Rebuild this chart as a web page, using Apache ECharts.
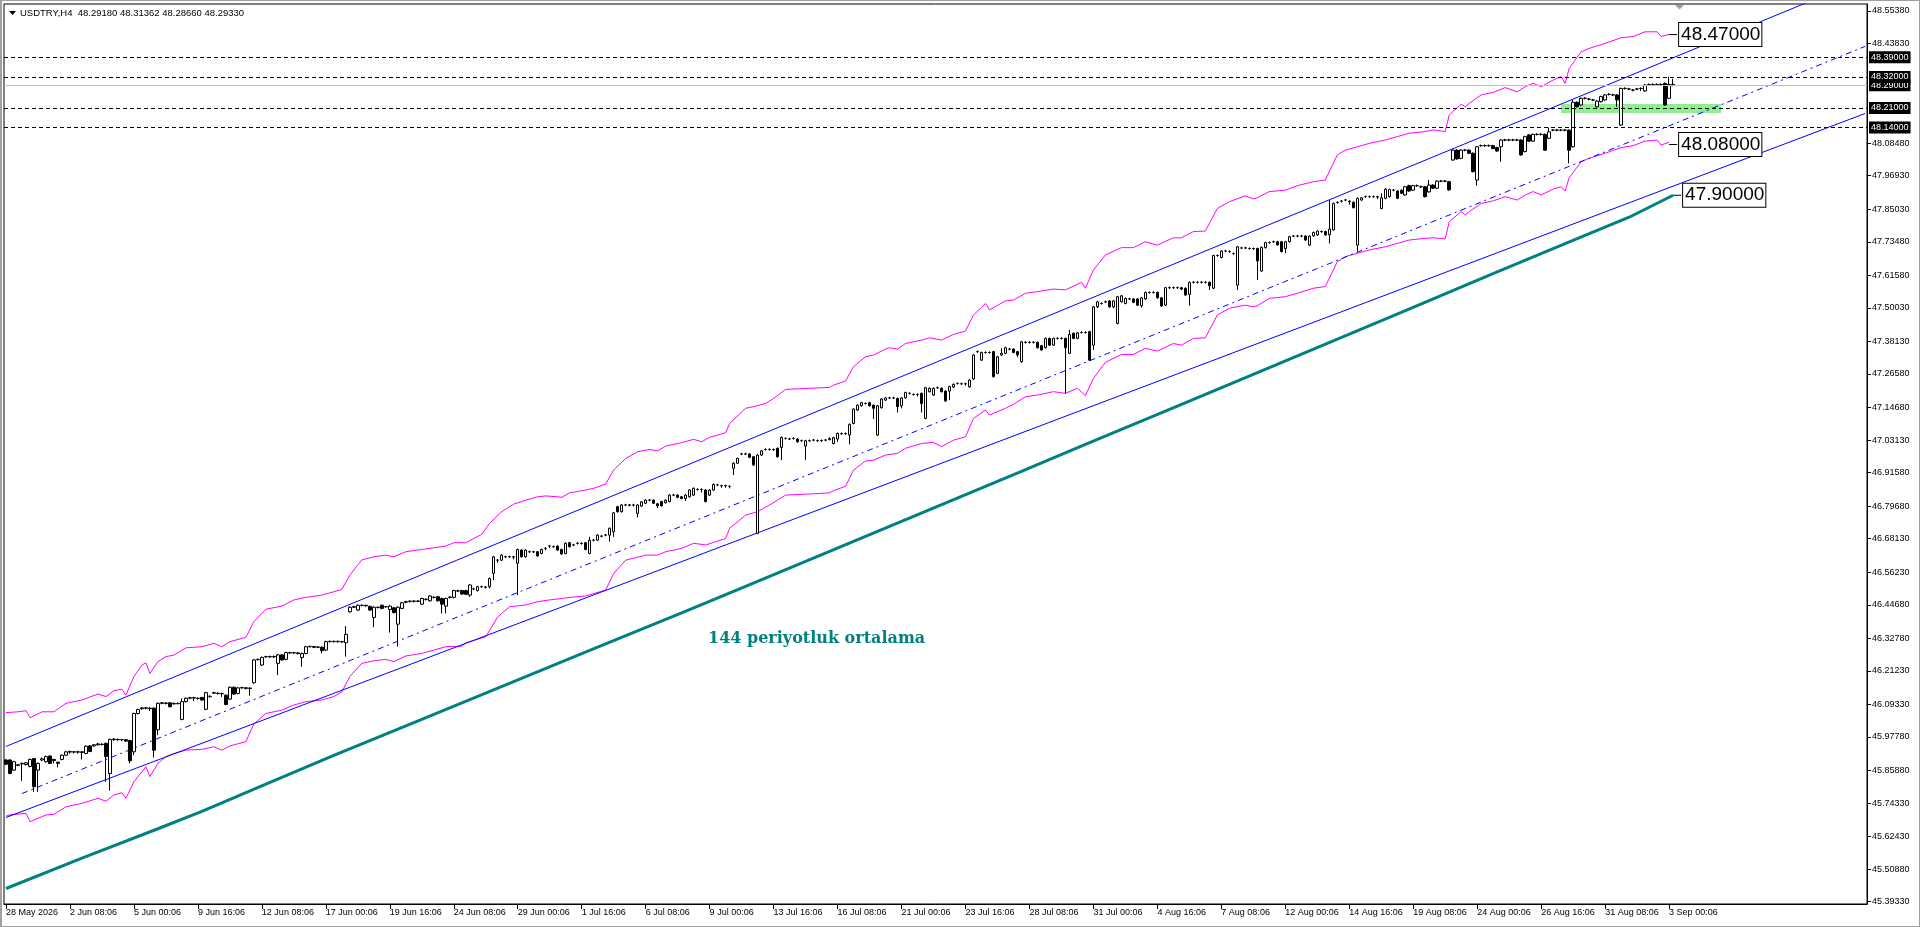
<!DOCTYPE html>
<html><head><meta charset="utf-8">
<script src="https://cdn.jsdelivr.net/npm/echarts@6/dist/echarts.min.js"></script>
<style>
html,body{margin:0;padding:0;background:#fff;}
#c{width:1920px;height:927px;}
#frame{position:absolute;left:0;top:0;width:1920px;height:927px;box-sizing:border-box;border:1px solid #a0a0a0;border-left-width:2px;pointer-events:none;}
</style>
</head><body><div id="c"></div><div id="frame"></div>
<script>
// ---------------- DATA ----------------
const symbolName = 'USDTRY,H4';
const startTimeUTC = [2026, 4, 28, 16, 6]; // first H4 bar
const totalSlots = 466;                    // bars + empty right shift area
const priceTicks = [45.3933,45.5088,45.6243,45.7433,45.8588,45.9778,46.0933,46.2123,46.3278,46.4468,46.5623,46.6813,46.7968,46.9158,47.0313,47.1468,47.2658,47.3813,47.5003,47.6158,47.7348,47.8503,47.9693,48.0848,48.4383,48.5538];
const yRange = [45.385, 48.5786];

// [open, high, low, close]
const ohlc = [
[45.896,45.899,45.878,45.881],[45.896,45.899,45.845,45.848],[45.860,45.893,45.857,45.890],[45.879,45.881,45.874,45.877],[45.884,45.887,45.822,45.882],[45.880,45.889,45.876,45.886],[45.873,45.901,45.870,45.898],[45.901,45.903,45.783,45.801],[45.860,45.887,45.783,45.884],[45.896,45.905,45.892,45.900],
[45.890,45.912,45.887,45.908],[45.910,45.913,45.882,45.884],[45.898,45.900,45.884,45.894],[45.888,45.890,45.870,45.884],[45.898,45.916,45.895,45.913],[45.913,45.928,45.910,45.925],[45.924,45.930,45.918,45.926],[45.925,45.928,45.919,45.924],[45.924,45.929,45.918,45.925],[45.925,45.928,45.898,45.923],
[45.919,45.948,45.916,45.945],[45.946,45.949,45.924,45.926],[45.946,45.953,45.943,45.950],[45.950,45.957,45.947,45.953],[45.952,45.955,45.947,45.951],[45.955,45.958,45.819,45.908],[45.848,45.972,45.787,45.969],[45.968,45.974,45.964,45.970],[45.969,45.972,45.964,45.968],[45.968,45.971,45.963,45.968],
[45.968,45.970,45.960,45.963],[45.965,45.968,45.884,45.893],[45.925,46.064,45.913,46.061],[46.061,46.078,46.058,46.075],[46.078,46.084,46.074,46.081],[46.081,46.084,46.076,46.080],[46.080,46.083,46.070,46.078],[46.080,46.083,45.905,45.931],[46.003,46.100,45.984,46.097],[46.097,46.102,46.094,46.099],
[46.098,46.101,46.093,46.097],[46.099,46.101,46.083,46.085],[46.095,46.099,46.093,46.097],[46.096,46.100,46.093,46.097],[46.040,46.115,46.037,46.103],[46.103,46.118,46.100,46.115],[46.115,46.120,46.112,46.117],[46.117,46.120,46.105,46.116],[46.115,46.118,46.110,46.114],[46.118,46.120,46.106,46.109],
[46.076,46.138,46.073,46.135],[46.121,46.125,46.117,46.122],[46.133,46.138,46.130,46.135],[46.133,46.136,46.128,46.132],[46.132,46.135,46.120,46.131],[46.126,46.129,46.090,46.093],[46.112,46.157,46.109,46.154],[46.154,46.157,46.127,46.130],[46.132,46.155,46.129,46.152],[46.152,46.156,46.149,46.153],
[46.152,46.155,46.146,46.150],[46.151,46.154,46.124,46.150],[46.170,46.254,46.167,46.251],[46.252,46.256,46.249,46.253],[46.233,46.263,46.230,46.260],[46.262,46.266,46.259,46.263],[46.263,46.266,46.259,46.262],[46.262,46.267,46.258,46.263],[46.239,46.272,46.197,46.269],[46.269,46.272,46.249,46.251],
[46.253,46.280,46.250,46.277],[46.277,46.280,46.273,46.276],[46.276,46.280,46.272,46.277],[46.276,46.278,46.270,46.274],[46.260,46.277,46.227,46.274],[46.274,46.301,46.271,46.298],[46.298,46.302,46.295,46.299],[46.299,46.300,46.293,46.296],[46.296,46.300,46.293,46.297],[46.296,46.299,46.274,46.284],
[46.286,46.319,46.283,46.316],[46.316,46.320,46.313,46.317],[46.317,46.320,46.313,46.316],[46.316,46.320,46.312,46.317],[46.316,46.319,46.312,46.315],[46.312,46.371,46.263,46.342],[46.422,46.441,46.419,46.438],[46.438,46.443,46.435,46.440],[46.428,46.448,46.425,46.445],[46.444,46.448,46.441,46.445],
[46.445,46.447,46.440,46.443],[46.441,46.444,46.425,46.428],[46.402,46.441,46.367,46.438],[46.438,46.441,46.434,46.437],[46.445,46.448,46.431,46.434],[46.440,46.443,46.436,46.440],[46.430,46.445,46.348,46.442],[46.436,46.439,46.416,46.419],[46.378,46.441,46.298,46.438],[46.434,46.457,46.431,46.454],
[46.456,46.461,46.452,46.458],[46.458,46.463,46.455,46.460],[46.460,46.463,46.455,46.459],[46.459,46.463,46.456,46.460],[46.449,46.472,46.446,46.469],[46.466,46.470,46.462,46.466],[46.461,46.481,46.458,46.478],[46.473,46.477,46.469,46.473],[46.475,46.478,46.458,46.461],[46.469,46.472,46.416,46.449],
[46.442,46.472,46.416,46.469],[46.473,46.477,46.469,46.474],[46.473,46.500,46.470,46.497],[46.496,46.500,46.492,46.496],[46.497,46.500,46.482,46.485],[46.497,46.500,46.481,46.484],[46.481,46.520,46.475,46.517],[46.503,46.507,46.499,46.503],[46.497,46.514,46.494,46.511],[46.511,46.515,46.507,46.511],
[46.510,46.513,46.505,46.509],[46.511,46.543,46.505,46.540],[46.558,46.620,46.534,46.617],[46.605,46.609,46.596,46.605],[46.605,46.626,46.602,46.623],[46.617,46.621,46.613,46.617],[46.617,46.621,46.613,46.618],[46.617,46.620,46.608,46.616],[46.594,46.646,46.481,46.643],[46.641,46.644,46.614,46.617],
[46.617,46.644,46.614,46.641],[46.635,46.639,46.631,46.635],[46.635,46.638,46.631,46.634],[46.635,46.638,46.617,46.620],[46.629,46.646,46.626,46.643],[46.647,46.651,46.640,46.647],[46.655,46.659,46.648,46.655],[46.653,46.657,46.649,46.653],[46.655,46.658,46.638,46.641],[46.643,46.646,46.624,46.627],
[46.629,46.668,46.626,46.665],[46.667,46.670,46.650,46.653],[46.659,46.663,46.655,46.659],[46.665,46.669,46.661,46.665],[46.665,46.668,46.660,46.664],[46.667,46.670,46.640,46.643],[46.629,46.688,46.626,46.676],[46.676,46.680,46.672,46.676],[46.676,46.697,46.673,46.694],[46.690,46.694,46.686,46.690],
[46.694,46.698,46.690,46.694],[46.694,46.721,46.671,46.718],[46.706,46.776,46.688,46.773],[46.795,46.798,46.774,46.777],[46.777,46.804,46.774,46.801],[46.801,46.805,46.797,46.801],[46.801,46.804,46.796,46.800],[46.800,46.805,46.796,46.801],[46.771,46.804,46.757,46.801],[46.797,46.815,46.794,46.812],
[46.807,46.821,46.804,46.818],[46.818,46.822,46.814,46.818],[46.818,46.821,46.804,46.807],[46.805,46.808,46.790,46.798],[46.813,46.816,46.795,46.798],[46.809,46.821,46.806,46.818],[46.813,46.839,46.810,46.836],[46.836,46.840,46.832,46.836],[46.836,46.839,46.825,46.828],[46.830,46.833,46.821,46.824],
[46.824,46.839,46.815,46.836],[46.830,46.857,46.827,46.854],[46.836,46.863,46.833,46.860],[46.856,46.860,46.852,46.856],[46.856,46.860,46.845,46.856],[46.854,46.857,46.810,46.813],[46.836,46.857,46.833,46.854],[46.854,46.877,46.851,46.874],[46.872,46.876,46.868,46.872],[46.869,46.873,46.862,46.869],
[46.869,46.873,46.862,46.870],[46.867,46.871,46.860,46.867],[46.931,46.952,46.907,46.949],[46.949,46.969,46.946,46.966],[46.982,46.986,46.978,46.982],[46.982,46.986,46.978,46.982],[46.982,46.985,46.967,46.970],[46.972,46.975,46.939,46.943],[46.700,46.981,46.697,46.978],[46.978,46.996,46.975,46.993],
[46.998,47.002,46.994,46.998],[46.998,47.002,46.994,46.998],[46.998,47.001,46.993,46.997],[47.002,47.005,46.969,46.972],[47.005,47.044,46.960,47.041],[47.037,47.041,47.033,47.037],[47.035,47.039,47.031,47.035],[47.037,47.041,47.033,47.037],[47.035,47.038,47.022,47.025],[47.029,47.033,47.025,47.029],
[47.010,47.032,46.960,47.029],[47.029,47.033,47.025,47.029],[47.031,47.035,47.027,47.031],[47.029,47.033,47.025,47.029],[47.029,47.033,47.025,47.030],[47.031,47.035,47.027,47.031],[47.033,47.041,47.030,47.037],[47.019,47.043,47.016,47.040],[47.035,47.058,47.025,47.055],[47.054,47.058,47.050,47.054],
[47.054,47.058,47.050,47.054],[47.049,47.090,47.016,47.087],[47.090,47.144,47.087,47.141],[47.138,47.158,47.135,47.155],[47.153,47.167,47.150,47.164],[47.161,47.165,47.157,47.161],[47.164,47.167,47.150,47.153],[47.155,47.158,47.106,47.144],[47.049,47.156,47.046,47.153],[47.146,47.180,47.143,47.177],
[47.173,47.184,47.170,47.181],[47.181,47.185,47.177,47.181],[47.181,47.185,47.177,47.181],[47.179,47.182,47.129,47.150],[47.153,47.184,47.144,47.181],[47.181,47.203,47.178,47.200],[47.197,47.201,47.193,47.197],[47.193,47.197,47.189,47.193],[47.193,47.197,47.186,47.193],[47.197,47.200,47.129,47.161],
[47.108,47.220,47.105,47.217],[47.203,47.218,47.200,47.215],[47.191,47.218,47.188,47.215],[47.217,47.221,47.213,47.217],[47.215,47.218,47.200,47.203],[47.205,47.208,47.167,47.170],[47.205,47.224,47.173,47.221],[47.219,47.232,47.216,47.229],[47.232,47.236,47.228,47.232],[47.231,47.235,47.227,47.231],
[47.231,47.235,47.224,47.231],[47.220,47.247,47.217,47.244],[47.248,47.336,47.245,47.333],[47.345,47.349,47.341,47.345],[47.315,47.345,47.312,47.342],[47.342,47.346,47.338,47.342],[47.342,47.346,47.338,47.342],[47.345,47.348,47.253,47.256],[47.268,47.330,47.265,47.327],[47.333,47.357,47.330,47.339],
[47.339,47.362,47.336,47.359],[47.354,47.358,47.350,47.354],[47.354,47.357,47.339,47.342],[47.345,47.348,47.325,47.333],[47.309,47.383,47.306,47.380],[47.378,47.382,47.374,47.378],[47.378,47.382,47.374,47.378],[47.378,47.382,47.374,47.378],[47.378,47.381,47.356,47.359],[47.366,47.369,47.348,47.351],
[47.359,47.395,47.356,47.392],[47.392,47.395,47.365,47.368],[47.368,47.395,47.365,47.392],[47.392,47.396,47.388,47.392],[47.392,47.396,47.388,47.392],[47.392,47.395,47.197,47.359],[47.339,47.422,47.336,47.406],[47.410,47.413,47.389,47.392],[47.392,47.415,47.389,47.412],[47.413,47.417,47.409,47.413],
[47.413,47.417,47.409,47.413],[47.416,47.419,47.312,47.315],[47.368,47.507,47.351,47.504],[47.504,47.525,47.499,47.522],[47.516,47.520,47.512,47.516],[47.522,47.526,47.518,47.522],[47.525,47.528,47.501,47.504],[47.504,47.528,47.499,47.525],[47.445,47.543,47.442,47.540],[47.522,47.546,47.519,47.543],
[47.516,47.537,47.513,47.534],[47.532,47.536,47.528,47.532],[47.532,47.535,47.517,47.520],[47.532,47.535,47.507,47.510],[47.508,47.539,47.501,47.536],[47.532,47.558,47.529,47.555],[47.555,47.559,47.551,47.555],[47.555,47.559,47.551,47.555],[47.555,47.558,47.533,47.536],[47.536,47.539,47.504,47.507],
[47.510,47.575,47.507,47.572],[47.572,47.576,47.568,47.572],[47.572,47.576,47.568,47.572],[47.572,47.576,47.568,47.572],[47.572,47.575,47.564,47.567],[47.570,47.573,47.543,47.546],[47.548,47.594,47.508,47.591],[47.591,47.595,47.587,47.591],[47.591,47.595,47.587,47.591],[47.591,47.595,47.587,47.591],
[47.591,47.595,47.587,47.591],[47.591,47.594,47.564,47.579],[47.570,47.689,47.567,47.686],[47.686,47.690,47.682,47.686],[47.679,47.705,47.676,47.702],[47.702,47.706,47.698,47.702],[47.700,47.704,47.696,47.700],[47.693,47.697,47.689,47.693],[47.581,47.720,47.564,47.717],[47.713,47.717,47.709,47.713],
[47.713,47.717,47.709,47.713],[47.711,47.715,47.707,47.711],[47.711,47.714,47.706,47.710],[47.711,47.714,47.599,47.667],[47.631,47.718,47.628,47.715],[47.714,47.735,47.711,47.732],[47.732,47.736,47.728,47.732],[47.735,47.739,47.731,47.735],[47.735,47.738,47.721,47.724],[47.735,47.738,47.697,47.700],
[47.711,47.738,47.694,47.735],[47.735,47.756,47.732,47.753],[47.755,47.759,47.751,47.755],[47.755,47.759,47.751,47.755],[47.755,47.759,47.751,47.755],[47.755,47.758,47.738,47.741],[47.723,47.758,47.720,47.755],[47.756,47.771,47.753,47.768],[47.759,47.776,47.756,47.773],[47.771,47.775,47.767,47.771],
[47.771,47.774,47.756,47.759],[47.760,47.883,47.729,47.780],[47.777,47.874,47.774,47.871],[47.874,47.878,47.870,47.875],[47.879,47.883,47.875,47.879],[47.883,47.887,47.879,47.883],[47.879,47.882,47.867,47.877],[47.875,47.878,47.853,47.856],[47.723,47.892,47.700,47.889],[47.883,47.894,47.880,47.891],
[47.895,47.899,47.891,47.895],[47.895,47.899,47.891,47.895],[47.895,47.899,47.891,47.895],[47.895,47.898,47.886,47.894],[47.853,47.907,47.850,47.891],[47.889,47.925,47.886,47.922],[47.895,47.923,47.892,47.920],[47.918,47.922,47.914,47.918],[47.915,47.918,47.886,47.889],[47.918,47.921,47.904,47.907],
[47.901,47.933,47.898,47.930],[47.934,47.937,47.912,47.915],[47.918,47.937,47.915,47.934],[47.934,47.938,47.930,47.934],[47.930,47.934,47.926,47.930],[47.930,47.933,47.892,47.895],[47.912,47.954,47.909,47.936],[47.936,47.939,47.922,47.925],[47.925,47.953,47.922,47.950],[47.950,47.954,47.946,47.950],
[47.950,47.954,47.946,47.950],[47.948,47.951,47.916,47.919],[48.025,48.063,48.022,48.060],[48.060,48.063,48.026,48.029],[48.031,48.063,48.028,48.060],[48.060,48.064,48.056,48.060],[48.060,48.063,48.046,48.049],[48.049,48.052,47.981,47.984],[47.954,48.075,47.934,48.072],[48.076,48.080,48.072,48.076],
[48.076,48.080,48.072,48.076],[48.076,48.080,48.072,48.076],[48.076,48.079,48.063,48.066],[48.069,48.072,48.054,48.057],[48.072,48.099,48.019,48.096],[48.096,48.100,48.092,48.096],[48.096,48.100,48.092,48.096],[48.096,48.100,48.092,48.096],[48.096,48.100,48.092,48.096],[48.096,48.099,48.040,48.043],
[48.055,48.111,48.052,48.108],[48.114,48.117,48.089,48.092],[48.092,48.119,48.089,48.116],[48.116,48.120,48.112,48.116],[48.116,48.120,48.112,48.116],[48.116,48.119,48.057,48.060],[48.102,48.140,48.099,48.125],[48.131,48.135,48.127,48.131],[48.131,48.135,48.127,48.131],[48.131,48.135,48.127,48.131],
[48.131,48.135,48.127,48.131],[48.131,48.134,48.013,48.060],[48.072,48.238,48.069,48.230],[48.230,48.233,48.211,48.214],[48.220,48.247,48.217,48.244],[48.244,48.248,48.240,48.244],[48.241,48.245,48.237,48.241],[48.238,48.242,48.234,48.238],[48.214,48.237,48.211,48.234],[48.232,48.253,48.229,48.250],
[48.238,48.259,48.235,48.256],[48.258,48.262,48.254,48.258],[48.256,48.260,48.252,48.256],[48.256,48.259,48.214,48.238],[48.149,48.282,48.146,48.279],[48.279,48.283,48.275,48.279],[48.277,48.281,48.273,48.277],[48.273,48.277,48.269,48.273],[48.277,48.281,48.273,48.277],[48.279,48.283,48.270,48.279],
[48.270,48.294,48.267,48.291],[48.293,48.297,48.289,48.293],[48.293,48.297,48.289,48.293],[48.293,48.297,48.289,48.293],[48.293,48.297,48.289,48.293],[48.297,48.300,48.217,48.220],[48.244,48.321,48.241,48.293],[48.2918,48.31362,48.2866,48.2933]
];

// Envelope bands: [bar index, price]
const envUpper = [[0,46.064],[3,46.067],[5,46.071],[6,46.046],[9,46.067],[12,46.067],[15,46.097],[19,46.109],[23,46.130],[25,46.121],[27,46.142],[29,46.147],[30,46.126],[32,46.192],[34,46.233],[35,46.241],[36,46.203],[38,46.245],[40,46.263],[42,46.268],[45,46.294],[49,46.298],[52,46.310],[54,46.298],[56,46.316],[60,46.331],[62,46.387],[65,46.431],[69,46.442],[72,46.464],[75,46.473],[79,46.481],[82,46.493],[84,46.501],[86,46.552],[89,46.606],[92,46.617],[95,46.623],[97,46.617],[100,46.635],[104,46.643],[110,46.655],[112,46.667],[115,46.667],[119,46.697],[121,46.736],[124,46.777],[127,46.804],[130,46.818],[133,46.830],[135,46.833],[138,46.830],[139,46.828],[141,46.844],[145,46.854],[147,46.860],[150,46.875],[152,46.925],[155,46.966],[158,46.990],[161,46.998],[163,46.993],[165,47.010],[169,47.022],[172,47.034],[174,47.025],[176,47.041],[180,47.057],[181,47.090],[185,47.144],[187,47.150],[190,47.161],[192,47.179],[195,47.211],[201,47.215],[206,47.218],[207,47.226],[210,47.241],[212,47.292],[215,47.327],[217,47.333],[220,47.354],[221,47.359],[223,47.354],[225,47.374],[229,47.386],[231,47.394],[234,47.386],[237,47.406],[240,47.418],[242,47.475],[245,47.516],[246,47.493],[250,47.525],[252,47.528],[255,47.552],[258,47.558],[262,47.567],[265,47.564],[269,47.591],[270,47.570],[272,47.635],[275,47.688],[279,47.714],[282,47.714],[285,47.735],[288,47.723],[292,47.749],[294,47.749],[297,47.771],[300,47.773],[303,47.853],[306,47.877],[310,47.898],[312,47.887],[313,47.891],[316,47.913],[320,47.918],[323,47.934],[327,47.948],[330,47.954],[333,48.043],[335,48.060],[338,48.072],[341,48.084],[345,48.096],[348,48.108],[351,48.120],[355,48.126],[357,48.132],[360,48.126],[361,48.185],[364,48.223],[365,48.214],[366,48.226],[369,48.256],[372,48.265],[375,48.282],[378,48.267],[380,48.285],[382,48.297],[384,48.285],[387,48.309],[389,48.321],[390,48.297],[391,48.350],[394,48.409],[396,48.421],[400,48.439],[404,48.459],[407,48.463],[410,48.480],[413,48.480],[414,48.463],[416,48.471]];
const envLower = [[0,45.697],[1,45.701],[5,45.707],[6,45.677],[10,45.701],[12,45.703],[15,45.730],[19,45.742],[23,45.760],[25,45.750],[27,45.772],[29,45.780],[30,45.760],[32,45.819],[35,45.872],[36,45.837],[38,45.884],[40,45.908],[42,45.919],[45,45.931],[49,45.934],[52,45.943],[54,45.931],[56,45.946],[60,45.961],[62,46.024],[65,46.061],[69,46.073],[72,46.091],[75,46.103],[79,46.109],[82,46.121],[84,46.138],[86,46.192],[89,46.239],[92,46.248],[95,46.253],[97,46.245],[100,46.265],[104,46.274],[110,46.298],[114,46.300],[115,46.312],[120,46.333],[123,46.404],[126,46.440],[130,46.446],[133,46.458],[136,46.464],[139,46.469],[141,46.473],[145,46.478],[150,46.499],[152,46.558],[155,46.605],[160,46.623],[163,46.623],[165,46.635],[169,46.647],[172,46.665],[175,46.659],[180,46.682],[181,46.718],[185,46.765],[188,46.777],[191,46.801],[193,46.818],[195,46.836],[201,46.840],[206,46.844],[207,46.852],[210,46.867],[212,46.925],[215,46.957],[217,46.960],[220,46.978],[223,46.984],[225,47.002],[229,47.019],[232,47.023],[234,47.008],[237,47.031],[240,47.043],[242,47.108],[245,47.138],[246,47.120],[250,47.144],[252,47.158],[255,47.185],[258,47.191],[262,47.203],[265,47.197],[268,47.215],[270,47.189],[272,47.250],[275,47.307],[279,47.335],[282,47.335],[285,47.357],[288,47.347],[292,47.374],[294,47.368],[297,47.392],[300,47.394],[303,47.475],[306,47.499],[310,47.510],[312,47.504],[313,47.508],[316,47.534],[320,47.540],[323,47.552],[327,47.570],[330,47.576],[333,47.664],[335,47.682],[338,47.694],[341,47.706],[345,47.717],[348,47.729],[351,47.741],[355,47.747],[357,47.749],[360,47.745],[361,47.806],[364,47.842],[365,47.830],[366,47.842],[369,47.871],[372,47.880],[375,47.895],[378,47.883],[380,47.901],[382,47.913],[384,47.901],[387,47.922],[389,47.930],[390,47.915],[391,47.962],[394,48.019],[396,48.031],[400,48.049],[404,48.069],[407,48.076],[410,48.092],[413,48.096],[414,48.078],[416,48.088]];
// 144-period moving average
const ma144 = [[0,45.440],[19,45.548],[38,45.652],[49,45.714],[65,45.810],[82,45.912],[104,46.040],[146,46.285],[169,46.418],[185,46.512],[206,46.636],[254,46.920],[270,47.016],[287,47.116],[309,47.247],[349,47.484],[373,47.628],[390,47.728],[406,47.822],[417,47.900]];
// channel trend lines
const trendUpper = [[0,45.944],[465,48.669]];
const trendMid = [[4,45.777],[465,48.428]];
const trendLower = [[0,45.692],[465,48.190]];
// horizontal levels
const dashedLevels = [48.39, 48.32, 48.21, 48.14];
const bidLevel = 48.2933;
const zoneRange = [48.192, 48.224];
const zoneBars = [389, 429];
// price label objects: [value, anchor bar]
const priceLabels = [[48.47, 416], [48.08, 416], [47.90, 417]];
const annotationText = '144 periyotluk ortalama';

// ---------------- BUILD ----------------
const MONTHS = ['Jan','Feb','Mar','Apr','May','Jun','Jul','Aug','Sep','Oct','Nov','Dec'];
const pad2 = n => String(n).padStart(2, '0');
const cats = [];
let t = Date.UTC(...startTimeUTC);
while (cats.length < totalSlots) {
  const d = new Date(t);
  const wd = d.getUTCDay();
  if (wd !== 0 && wd !== 6) cats.push(d.getUTCDate() + ' ' + MONTHS[d.getUTCMonth()] + ' ' + pad2(d.getUTCHours()) + ':' + pad2(d.getUTCMinutes()));
  t += 4 * 3600 * 1000;
}
const d0 = new Date(Date.UTC(...startTimeUTC));
const firstLabel = d0.getUTCDate() + ' ' + MONTHS[d0.getUTCMonth()] + ' ' + d0.getUTCFullYear();
const N = ohlc.length;
const candleData = ohlc.map(r => [r[0], r[3], r[2], r[1]]);
const last = ohlc[N - 1];
const titleText = symbolName + '  ' + last.map(v => v.toFixed(5)).join(' ');
const FONT = 'Liberation Sans';
const showIdx = (i) => i % 16 === 0 && i < N;

function lineSeries(data, color, width, type, z) {
  return {type: 'line', data, symbol: 'none', silent: true, animation: false, z: z || 2,
    lineStyle: {color, width, type: type || 'solid'}, emphasis: {disabled: true}};
}

const series = [];
const maSeries = lineSeries(ma144, '#008080', 3, 'solid', 2);
maSeries.markArea = {silent: true, animation: false,
  itemStyle: {color: '#90ee90', opacity: 1},
  data: [[{xAxis: cats[zoneBars[0]], yAxis: zoneRange[1]}, {xAxis: cats[zoneBars[1]], yAxis: zoneRange[0]}]]};
maSeries.markLine = {symbol: ['none', 'none'], silent: true, animation: false,
  label: {show: true, position: 'end', distance: 2, formatter: p => Number(p.value).toFixed(5),
    color: '#fff', backgroundColor: '#000', fontSize: 9, fontFamily: FONT, padding: [1, 2, 1, 2], lineHeight: 10},
  emphasis: {disabled: true},
  data: [{yAxis: bidLevel, lineStyle: {color: '#c0c0c0', type: 'solid', width: 1}}]
    .concat(dashedLevels.map(v => ({yAxis: v, lineStyle: {color: '#000', type: [4, 3], width: 1}})))};
series.push(maSeries);
series.push(lineSeries(envUpper, '#ff00ff', 1));
series.push(lineSeries(envLower, '#ff00ff', 1));
series.push(lineSeries(trendUpper, '#0000ff', 1));
series.push(lineSeries(trendLower, '#0000ff', 1));
series.push(lineSeries(trendMid, '#0000ff', 1, [6, 4, 2, 4]));
series.push({type: 'candlestick', data: candleData, barWidth: 3, z: 3, silent: true, animation: false,
  itemStyle: {color: '#ffffff', color0: '#000000', borderColor: '#000000', borderColor0: '#000000', borderColorDoji: '#000000', borderWidth: 1},
  emphasis: {disabled: true}});
priceLabels.forEach(([v, bar]) => {
  const s = lineSeries([[bar, v], [bar + 2, v]], '#000', 1, 'solid', 4);
  s.endLabel = {show: true, formatter: v.toFixed(5), distance: 2, color: '#000', fontSize: 19, fontFamily: FONT,
    backgroundColor: '#fff', borderColor: '#000', borderWidth: 1, padding: [2, 1, 1, 2], lineHeight: 20};
  series.push(s);
});

const chart = echarts.init(document.getElementById('c'));
chart.setOption({
  animation: false,
  backgroundColor: '#ffffff',
  grid: {left: 4, top: 4, right: 53, bottom: 23, show: true, borderColor: '#000', borderWidth: 1},
  xAxis: {type: 'category', data: cats, boundaryGap: true,
    axisLine: {show: true, lineStyle: {color: '#000', width: 1}},
    axisTick: {show: true, interval: showIdx, alignWithLabel: true, length: 5, lineStyle: {color: '#000'}},
    axisLabel: {interval: showIdx, align: 'left', margin: 4, fontSize: 9, fontFamily: FONT, color: '#000',
      formatter: (v, i) => i === 0 ? firstLabel : (i < N ? v : '')},
    splitLine: {show: false}},
  yAxis: {type: 'value', position: 'right', min: yRange[0], max: yRange[1],
    axisLine: {show: true, lineStyle: {color: '#000'}},
    axisTick: {show: true, length: 4, customValues: priceTicks, lineStyle: {color: '#000'}},
    axisLabel: {customValues: priceTicks, formatter: v => Number(v).toFixed(5), margin: 5, fontSize: 9, fontFamily: FONT, color: '#000'},
    splitLine: {show: false}},
  graphic: [
    {type: 'polygon', shape: {points: [[9, 11], [16, 11], [12.5, 15]]}, style: {fill: '#000'}, silent: true},
    {type: 'text', x: 20, y: 13, silent: true, style: {text: titleText, font: '9.5px "Liberation Sans"', fill: '#000', verticalAlign: 'middle'}},
    {type: 'text', x: 708, y: 639, silent: true, style: {text: annotationText, font: 'bold 16px "DejaVu Serif"', fill: '#008080', verticalAlign: 'middle'}},
    {type: 'polygon', shape: {points: [[1675, 5], [1684, 5], [1679.5, 9.5]]}, style: {fill: '#a0a0a0'}, silent: true}
  ],
  series
});
</script></body></html>
